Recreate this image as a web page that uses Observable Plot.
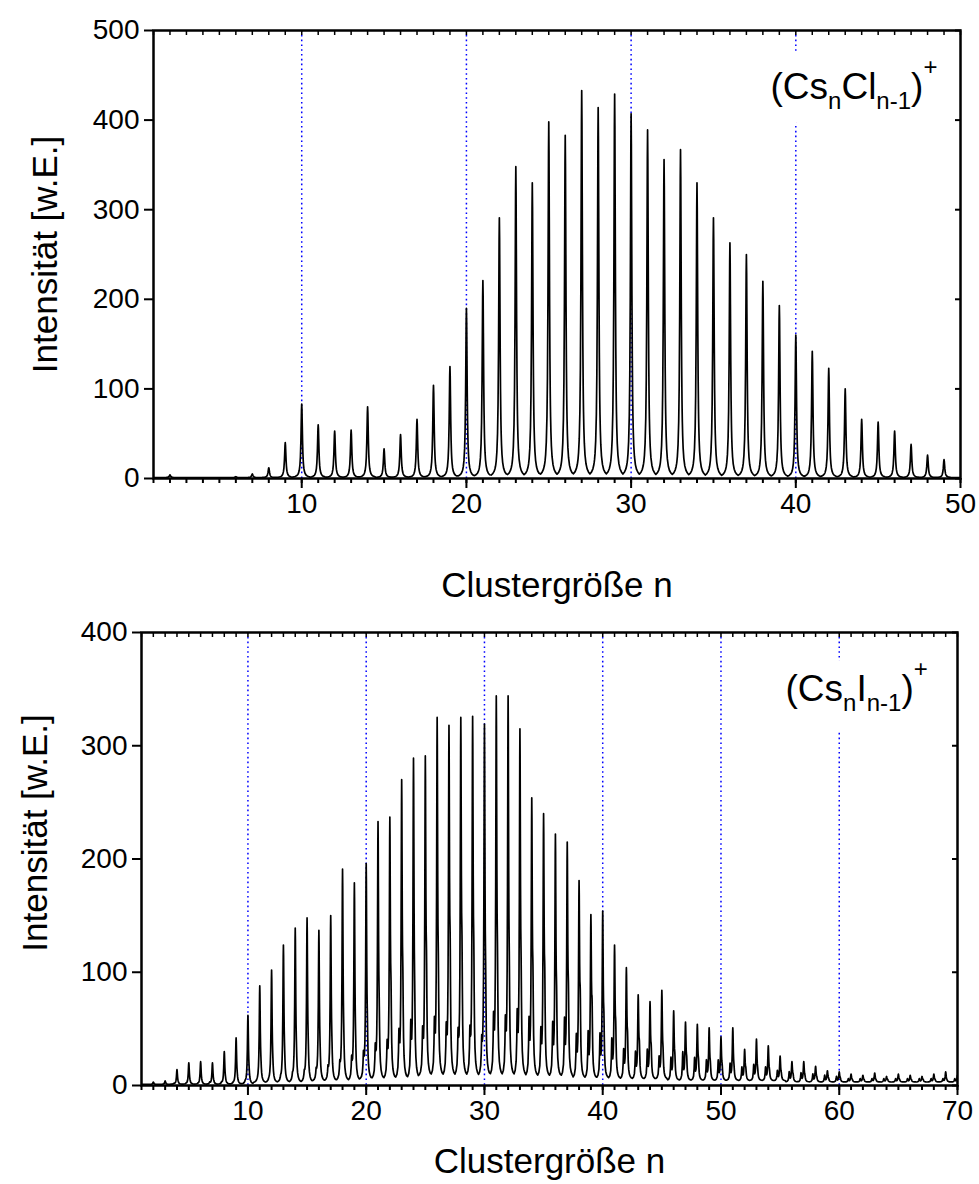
<!DOCTYPE html>
<html><head><meta charset="utf-8">
<script src="https://cdn.jsdelivr.net/npm/d3@7"></script>
<script src="https://cdn.jsdelivr.net/npm/@observablehq/plot@0.6"></script>
<style>
body{margin:0;background:#fff;font-family:"Liberation Sans",Arial,sans-serif;}
#chart{width:979px;}
#chart svg{display:block;}
</style></head><body><div id="chart"></div>
<script>
// ---------- data ----------
// (Cs_n Cl_n-1)+ : peak intensity at each cluster size n
const CSCL_N = [2,3,4,5,6,7,8,9,10,11,12,13,14,15,16,17,18,19,20,21,22,23,24,25,26,27,28,29,30,31,32,33,34,35,36,37,38,39,40,41,42,43,44,45,46,47,48,49];
const CSCL_PEAK = [4,1,1,1,2,5,12,40,83,60,53,54,80,33,49,66,104,125,190,221,291,348,330,398,383,433,414,429,407,389,356,367,330,291,263,250,220,193,160,142,123,100,66,63,53,38,26,21];
const CSCL_FLOOR = 1;

// (Cs_n I_n-1)+ : main peak, right shoulder, left satellite and floor level at each n
const CSI_N = [2,3,4,5,6,7,8,9,10,11,12,13,14,15,16,17,18,19,20,21,22,23,24,25,26,27,28,29,30,31,32,33,34,35,36,37,38,39,40,41,42,43,44,45,46,47,48,49,50,51,52,53,54,55,56,57,58,59,60,61,62,63,64,65,66,67,68,69,70];
const CSI_PEAK = [3,4,14,20,21,20,30,42,62,88,102,124,139,148,137,150,191,179,196,233,237,270,289,291,325,318,325,326,319,344,344,315,254,240,222,215,181,151,154,124,104,80,74,84,66,56,54,51,43,51,32,41,35,26,21,21,17,13,12,10,9,11,8,10,9,8,10,12,9];
const CSI_SHOULDER = [1,1,3,4,4,4,6,8,12,18,20,25,28,30,28,32,40,36,48,60,75,84,70,98,92,110,109,104,85,100,92,90,88,87,72,75,72,66,54,48,40,34,31,28,24,22,20,18,16,15,14,13,12,10,9,8,7,6,6,5,5,5,5,5,5,5,5,5,5];
const CSI_SATELLITE = [1,1,2,2,2,3,3,3,4,5,6,8,10,12,14,16,20,24,28,34,37,46,54,48,56,51,46,48,40,60,57,63,57,48,53,57,43,46,44,40,31,29,31,25,24,29,24,22,22,19,16,18,16,13,12,11,10,9,8,6,6,6,6,6,6,6,6,6,6];
const CSI_FLOOR = [1,1,1,1,1,1,1,1,1,2,2,2,2,2,3,3,3,3,4,4,4,4,4,6,6,6,6,6,6,6,6,6,6,6,6,6,5,5,5,5,5,5,5,5,4,4,4,4,4,4,4,4,4,4,3,3,3,3,3,3,3,3,3,3,3,3,3,3,3];

// axes
const X_DOMAIN_TOP = [1, 50];
const Y_DOMAIN_TOP = [0, 500];
const X_TICKS_TOP = [10, 20, 30, 40, 50];
const X_MINOR_TOP = d3.range(1, 51);
const Y_TICKS_TOP = [0, 100, 200, 300, 400, 500];
const GUIDES_TOP = [10, 20, 30, 40];

const X_DOMAIN_BOTTOM = [1, 70];
const Y_DOMAIN_BOTTOM = [0, 400];
const X_TICKS_BOTTOM = [10, 20, 30, 40, 50, 60, 70];
const X_MINOR_BOTTOM = d3.range(1, 71);
const Y_TICKS_BOTTOM = [0, 100, 200, 300, 400];
const GUIDES_BOTTOM = [10, 20, 30, 40, 50, 60];

const X_LABEL = "Clustergröße n";
const Y_LABEL = "Intensität [w.E.]";
const LEGEND_TOP = [["(Cs", "main"], ["n", "sub"], ["Cl", "main"], ["n-1", "sub"], [")", "main"], ["+", "sup"]];
const LEGEND_BOTTOM = [["(Cs", "main"], ["n", "sub"], ["I", "main"], ["n-1", "sub"], [")", "main"], ["+", "sup"]];

// line-shape lookup: [offset from n, main-peak fraction, right-shoulder fraction, left-satellite fraction]
const PEAK_PROFILE = [
  [-0.50, 0.0099, 0.0044, 0.0215],
  [-0.40, 0.0154, 0.0064, 0.0525],
  [-0.32, 0.0238, 0.0090, 0.165],
  [-0.27, 0.0332, 0.0116, 0.50],
  [-0.24, 0.0416, 0.0137, 0.941],
  [-0.23, 0.0451, 0.0145, 1],
  [-0.22, 0.0491, 0.0154, 0.941],
  [-0.19, 0.0648, 0.0187, 0.50],
  [-0.15, 0.100, 0.025, 0.20],
  [-0.11, 0.171, 0.035, 0.10],
  [-0.08, 0.281, 0.047, 0.066],
  [-0.05, 0.50, 0.066, 0.047],
  [-0.03, 0.735, 0.0865, 0.038],
  [-0.015, 0.917, 0.108, 0.0335],
  [0, 1, 0.138, 0.0293],
  [0.015, 0.917, 0.182, 0.026],
  [0.03, 0.735, 0.246, 0.0231],
  [0.05, 0.50, 0.39, 0.020],
  [0.07, 0.338, 0.64, 0.0175],
  [0.09, 0.236, 0.941, 0.0154],
  [0.10, 0.20, 1, 0.0145],
  [0.11, 0.171, 0.941, 0.0137],
  [0.13, 0.129, 0.64, 0.0122],
  [0.16, 0.089, 0.308, 0.0104],
  [0.20, 0.0588, 0.138, 0.0086],
  [0.26, 0.0357, 0.0588, 0.0066],
  [0.33, 0.0224, 0.0293, 0.0051],
  [0.41, 0.0147, 0.0164, 0.0039]
];

// ---------- build spectra from the arrays ----------
function spectrum(ns, peaks, shoulders, satellites, floors, xMin, xMax) {
  const pts = [{x: xMin, y: floors[0]}];
  ns.forEach((n, i) => {
    const b = floors[i];
    const top = peaks[i] - b;
    const sh = shoulders ? Math.max(0, shoulders[i] - b - 0.12 * top) : 0;
    const sat = satellites ? Math.max(0, satellites[i] - b - 0.03 * top) : 0;
    const main = Math.max(0, top - 0.138 * sh - 0.029 * sat);
    for (const [d, fm, fs, fp] of PEAK_PROFILE) {
      pts.push({x: n + d, y: b + main * fm + sh * fs + sat * fp});
    }
  });
  pts.push({x: xMax, y: floors[floors.length - 1]});
  return pts;
}

const topSeries = spectrum(CSCL_N, CSCL_PEAK, null, null, CSCL_N.map(() => CSCL_FLOOR), X_DOMAIN_TOP[0], X_DOMAIN_TOP[1]);
const bottomSeries = spectrum(CSI_N, CSI_PEAK, CSI_SHOULDER, CSI_SATELLITE, CSI_FLOOR, X_DOMAIN_BOTTOM[0], X_DOMAIN_BOTTOM[1]);

const BLUE = "#0000ff";
const FONT = "'Liberation Sans', Arial, sans-serif";

function legendString(parts) { return parts.map(p => p[0]).join(""); }

function panel(cfg) {
  const legendText = legendString(cfg.legend);
  const legendOpts = {frameAnchor: "top-right", dx: cfg.legendDx, dy: 68, textAnchor: "start", lineAnchor: "bottom", fontSize: 37};
  const svg = Plot.plot({
    width: 979,
    height: cfg.height,
    marginTop: cfg.mt, marginBottom: cfg.mb, marginLeft: cfg.ml, marginRight: cfg.mr,
    style: {fontFamily: FONT, background: "white", color: "black", overflow: "visible"},
    x: {domain: cfg.xDomain, label: null},
    y: {domain: cfg.yDomain, label: null},
    marks: [
      Plot.ruleX(cfg.guides, {stroke: BLUE, strokeWidth: 1.5, strokeDasharray: "1.6,3.2"}),
      Plot.lineY(cfg.series, {x: "x", y: "y", stroke: "black", strokeWidth: 1.7, clip: true}),
      // white knock-out behind the legend, then the legend itself
      Plot.text([legendText], {...legendOpts, fill: "white", stroke: "white", strokeWidth: 42, strokeLinejoin: "round"}),
      Plot.text([legendText], {...legendOpts, fill: "black"}),
      Plot.frame({stroke: "black", strokeWidth: 2.5}),
      Plot.axisX({ticks: cfg.xMinor, tickSize: 5, tickFormat: () => "", strokeWidth: 2, label: null}),
      Plot.axisX({ticks: cfg.xTicks, tickSize: 10, tickPadding: 5, fontSize: 28, strokeWidth: 2, label: null}),
      Plot.axisX({anchor: "top", ticks: cfg.xMinor, tickSize: -4, tickFormat: () => "", strokeWidth: 1.5, label: null}),
      Plot.axisY({ticks: cfg.yTicks, tickSize: 9, tickPadding: 5, fontSize: 28, strokeWidth: 2, label: null}),
      Plot.axisY({anchor: "right", ticks: cfg.yTicks, tickSize: -6, tickFormat: () => "", strokeWidth: 2, label: null}),
      Plot.text([X_LABEL], {frameAnchor: "bottom", dy: cfg.xLabelDy, lineAnchor: "middle", textAnchor: "middle", fontSize: 35, fill: "black"}),
      Plot.text([Y_LABEL], {frameAnchor: "left", dx: cfg.yLabelDx, dy: cfg.yLabelDy, rotate: -90, textAnchor: "middle", lineAnchor: "middle", fontSize: 35, fill: "black"})
    ]
  });
  // rich legend with sub/superscripts
  d3.select(svg).selectAll("text").filter(function() { return this.textContent === legendText; }).each(function() {
    const t = d3.select(this);
    t.attr("dy", null).text(null);
    let shift = 0;
    for (const [s, role] of cfg.legend) {
      const target = role === "sub" ? 10 : role === "sup" ? -24 : 0;
      t.append("tspan").attr("font-size", role === "main" ? 37 : 24).attr("dy", target - shift).text(s);
      shift = target;
    }
  });
  return svg;
}

const chart = document.getElementById("chart");
chart.appendChild(panel({
  height: 600, mt: 30, mb: 122, ml: 153, mr: 19,
  xDomain: X_DOMAIN_TOP, yDomain: Y_DOMAIN_TOP, xTicks: X_TICKS_TOP, xMinor: X_MINOR_TOP, yTicks: Y_TICKS_TOP,
  guides: GUIDES_TOP, series: topSeries, legend: LEGEND_TOP, legendDx: -190,
  xLabelDy: 107, yLabelDx: -108, yLabelDy: 0
}));
chart.appendChild(panel({
  height: 584, mt: 32, mb: 99, ml: 141, mr: 22,
  xDomain: X_DOMAIN_BOTTOM, yDomain: Y_DOMAIN_BOTTOM, xTicks: X_TICKS_BOTTOM, xMinor: X_MINOR_BOTTOM, yTicks: Y_TICKS_BOTTOM,
  guides: GUIDES_BOTTOM, series: bottomSeries, legend: LEGEND_BOTTOM, legendDx: -172,
  xLabelDy: 76, yLabelDx: -106, yLabelDy: -26
}));
</script></body></html>
